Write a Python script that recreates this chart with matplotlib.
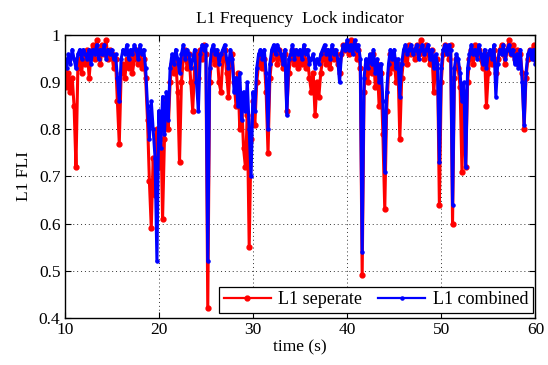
from __future__ import annotations

import matplotlib

matplotlib.use("Agg")
import matplotlib.pyplot as plt
import numpy as np
from matplotlib.ticker import FuncFormatter, MultipleLocator

# FLI samples, one every 0.2 s starting at t = 10 s (one row = 5 s)
SAMPLE_STEP = 0.2
START_TIME = 10.0

fli_separate = [
    0.93, 0.89, 0.92, 0.88, 0.91, 0.85, 0.72, 0.93, 0.95, 0.92, 0.96, 0.94, 0.97, 0.91, 0.96, 0.98, 0.95, 0.99, 0.97, 0.94, 0.98, 0.96, 0.99, 0.95, 0.97,
    0.96, 0.93, 0.95, 0.86, 0.77, 0.92, 0.94, 0.91, 0.95, 0.93, 0.96, 0.92, 0.95, 0.97, 0.94, 0.96, 0.93, 0.95, 0.91, 0.82, 0.69, 0.59, 0.74, 0.66, 0.80,
    0.72, 0.83, 0.61, 0.78, 0.86, 0.80, 0.90, 0.94, 0.92, 0.95, 0.88, 0.73, 0.90, 0.95, 0.97, 0.93, 0.96, 0.90, 0.84, 0.93, 0.96, 0.91, 0.97, 0.95, 0.98,
    0.96, 0.42, 0.90, 0.95, 0.97, 0.94, 0.96, 0.90, 0.88, 0.95, 0.97, 0.92, 0.87, 0.94, 0.96, 0.90, 0.85, 0.92, 0.80, 0.86, 0.76, 0.72, 0.83, 0.55, 0.78,
    0.86, 0.81, 0.90, 0.94, 0.96, 0.93, 0.95, 0.88, 0.75, 0.91, 0.95, 0.97, 0.96, 0.94, 0.97, 0.95, 0.93, 0.96, 0.84, 0.92, 0.95, 0.97, 0.94, 0.96, 0.93,
    0.96, 0.94, 0.97, 0.93, 0.95, 0.91, 0.88, 0.92, 0.83, 0.90, 0.87, 0.92, 0.95, 0.97, 0.94, 0.96, 0.93, 0.97, 0.95, 0.96, 0.94, 0.92, 0.96, 0.98, 0.97,
    0.98, 0.96, 0.99, 0.97, 0.98, 0.95, 0.97, 0.93, 0.49, 0.88, 0.93, 0.90, 0.95, 0.92, 0.96, 0.89, 0.94, 0.85, 0.92, 0.79, 0.63, 0.84, 0.92, 0.96, 0.93,
    0.95, 0.90, 0.94, 0.78, 0.91, 0.95, 0.97, 0.94, 0.98, 0.96, 0.97, 0.95, 0.98, 0.96, 0.99, 0.97, 0.95, 0.98, 0.96, 0.94, 0.97, 0.88, 0.93, 0.95, 0.64,
    0.90, 0.96, 0.98, 0.97, 0.95, 0.98, 0.60, 0.91, 0.95, 0.93, 0.89, 0.71, 0.88, 0.72, 0.90, 0.95, 0.97, 0.94, 0.98, 0.96, 0.97, 0.95, 0.93, 0.96, 0.85,
    0.92, 0.96, 0.94, 0.97, 0.92, 0.95, 0.97, 0.98, 0.96, 0.94, 0.97, 0.99, 0.96, 0.98, 0.95, 0.97, 0.94, 0.96, 0.92, 0.80, 0.91, 0.95, 0.97, 0.96, 0.98,
    0.95,
]

fli_combined = [
    0.95, 0.93, 0.96, 0.94, 0.97, 0.95, 0.93, 0.96, 0.97, 0.95, 0.97, 0.96, 0.95, 0.97, 0.94, 0.97, 0.96, 0.98, 0.95, 0.97, 0.96, 0.98, 0.95, 0.97, 0.96,
    0.97, 0.95, 0.96, 0.91, 0.86, 0.95, 0.97, 0.96, 0.98, 0.95, 0.97, 0.96, 0.98, 0.97, 0.95, 0.98, 0.96, 0.97, 0.93, 0.85, 0.78, 0.86, 0.80, 0.74, 0.52,
    0.84, 0.76, 0.87, 0.79, 0.88, 0.82, 0.93, 0.96, 0.94, 0.97, 0.95, 0.92, 0.96, 0.98, 0.95, 0.97, 0.96, 0.93, 0.95, 0.97, 0.90, 0.84, 0.96, 0.98, 0.97,
    0.98, 0.52, 0.93, 0.97, 0.98, 0.96, 0.97, 0.94, 0.96, 0.97, 0.98, 0.95, 0.93, 0.97, 0.95, 0.88, 0.91, 0.85, 0.92, 0.82, 0.88, 0.84, 0.90, 0.80, 0.70,
    0.88, 0.84, 0.93, 0.96, 0.97, 0.95, 0.97, 0.92, 0.80, 0.94, 0.97, 0.98, 0.96, 0.98, 0.97, 0.96, 0.94, 0.97, 0.83, 0.95, 0.96, 0.98, 0.95, 0.97, 0.96,
    0.97, 0.95, 0.98, 0.96, 0.97, 0.94, 0.95, 0.96, 0.93, 0.95, 0.94, 0.96, 0.97, 0.98, 0.96, 0.97, 0.95, 0.98, 0.96, 0.97, 0.95, 0.90, 0.96, 0.98, 0.97,
    0.99, 0.97, 0.98, 0.96, 0.99, 0.97, 0.98, 0.95, 0.54, 0.91, 0.95, 0.93, 0.96, 0.94, 0.97, 0.92, 0.95, 0.90, 0.94, 0.86, 0.71, 0.88, 0.94, 0.97, 0.95,
    0.97, 0.93, 0.95, 0.87, 0.94, 0.97, 0.98, 0.96, 0.97, 0.98, 0.96, 0.97, 0.98, 0.95, 0.97, 0.98, 0.96, 0.97, 0.98, 0.95, 0.97, 0.93, 0.96, 0.94, 0.73,
    0.93, 0.97, 0.98, 0.96, 0.98, 0.97, 0.64, 0.93, 0.96, 0.95, 0.92, 0.86, 0.90, 0.72, 0.93, 0.96, 0.98, 0.96, 0.97, 0.95, 0.98, 0.96, 0.94, 0.97, 0.93,
    0.96, 0.97, 0.95, 0.98, 0.87, 0.94, 0.97, 0.96, 0.98, 0.95, 0.97, 0.98, 0.96, 0.97, 0.94, 0.96, 0.93, 0.97, 0.90, 0.81, 0.92, 0.96, 0.97, 0.95, 0.97,
    0.94,
]

x_ticks = [10, 20, 30, 40, 50, 60]
y_ticks = [0.4, 0.5, 0.6, 0.7, 0.8, 0.9, 1.0]

plt.rcParams["font.family"] = ["Liberation Serif", "DejaVu Serif"]
plt.rcParams["font.size"] = 12


def main() -> None:
    t = START_TIME + SAMPLE_STEP * np.arange(len(fli_separate))

    fig = plt.figure(figsize=(5.48, 3.65), dpi=100)
    ax = fig.add_axes([0.118, 0.130, 0.859, 0.773])

    ax.plot(t, fli_separate, color="#ff0000", linewidth=2.2, marker=".", markersize=7, label="L1 seperate")
    ax.plot(t, fli_combined, color="#0000ff", linewidth=2.2, marker=".", markersize=4.5, label="L1 combined")

    ax.set_xlim(10, 60)
    ax.set_ylim(0.4, 1.0)
    ax.set_xticks(x_ticks)
    ax.set_yticks(y_ticks)
    ax.yaxis.set_major_formatter(FuncFormatter(lambda v, _: f"{v:g}"))
    ax.xaxis.set_minor_locator(MultipleLocator(100))
    ax.tick_params(direction="in", top=True, right=True, length=4, width=0.8, labelsize=12.5, pad=3)
    ax.grid(True, color="#333333", linestyle=(0, (1, 3)), linewidth=0.7)
    for spine in ax.spines.values():
        spine.set_linewidth(1.0)

    ax.set_xlabel("time (s)", fontsize=12.5, labelpad=1)
    ax.set_ylabel("L1 FLI", fontsize=12.5, labelpad=5)
    ax.set_title("L1 Frequency  Lock indicator", fontsize=12.5, pad=9)

    leg = ax.legend(
        loc="lower left",
        bbox_to_anchor=(0.328, 0.017, 0.666, 0.106),
        mode="expand",
        ncol=2,
        fancybox=False,
        framealpha=1,
        edgecolor="black",
        fontsize=13,
        handlelength=2.6,
        handletextpad=0.4,
        columnspacing=0.8,
        borderpad=0.25,
        borderaxespad=0,
    )
    leg.get_frame().set_linewidth(0.9)
    for handle in leg.get_lines():
        handle.set_linewidth(1.6)

    fig.savefig("out.png", dpi=100)
    plt.close(fig)


if __name__ == "__main__":
    main()
